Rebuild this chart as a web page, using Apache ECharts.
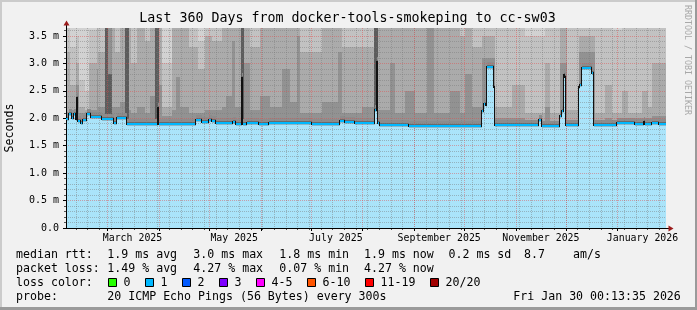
<!DOCTYPE html>
<html><head><meta charset="utf-8">
<script src="https://cdn.jsdelivr.net/npm/echarts@6/dist/echarts.min.js"></script>
<style>html,body{margin:0;padding:0;background:#f1f1f1;}#c{width:697px;height:310px;}</style>
</head><body><div id="c"></div>
<script>
// ---------- data ----------
// time window: 360 days ending Fri Jan 30 00:13:35 2026 (day offsets measured from window start)
const windowEnd = '2026-01-30T00:13:35Z';
const windowDays = 360;

// median RTT (ms), step series: value holds from medDay[i] until medDay[i+1]
const medDay = [0, 1.86, 3.42, 4.86, 5.82, 6.83, 7.43, 8.81, 10.25, 12.83, 14.81, 21.82, 28.84, 30.82, 36.81,
  55.40, 56.0, 63.79, 65.77, 73.80, 77.76, 81.77, 85.79, 87.77, 89.75, 100.36, 102.16, 105.76, 106.35, 108.75,
  115.77, 121.76, 127.76, 147.72, 164.69, 167.69, 173.68, 185.31, 186.51, 187.11, 188.67, 205.70, 249.64, 250.66,
  252.04, 252.64, 255.64, 256.65, 257.25, 283.63, 285.61, 296.58, 297.60, 298.62, 299.22, 300.18, 307.61, 308.57,
  309.59, 315.59, 316.79, 330.58, 341.55, 346.58, 347.54, 351.56, 355.58];
const medVal = [1.99, 2.07, 2.0, 2.07, 1.99, 2.37, 1.95, 1.92, 1.97, 2.07, 2.02, 1.98, 1.92, 2.0, 1.89,
  2.19, 1.89, 1.9, 1.89, 1.9, 1.96, 1.94, 1.96, 1.95, 1.91, 1.93, 1.9, 2.73, 1.9, 1.92,
  1.9, 1.92, 1.91, 1.89, 1.95, 1.93, 1.91, 2.15, 3.03, 1.92, 1.87, 1.86, 2.13, 2.26,
  2.24, 2.93, 2.94, 2.57, 1.87, 1.96, 1.85, 2.05, 2.13, 2.78, 2.76, 1.87, 2.57, 2.6,
  2.91, 2.82, 1.87, 1.92, 1.9, 1.94, 1.89, 1.91, 1.9];

// smoke (ping spread, ms): boundaries of the shade bands above the median, per segment starting at smokeDay[i]
const smokeDay = [0, 2.64, 5.94, 8.03, 11.63, 14.03, 18.53, 19.42, 23.62, 25.42, 27.82, 29.62, 32.61, 35.61, 37.71,
  39.21, 42.81, 47.60, 50.60, 53.60, 56.00, 57.79, 63.79, 66.19, 68.59, 73.98, 79.38, 83.57, 87.77, 93.76,
  96.16, 99.76, 101.56, 105.16, 106.65, 110.55, 116.55, 122.54, 129.74, 134.53, 138.73, 140.53, 153.72, 163.31,
  165.71, 177.70, 184.89, 187.29, 194.48, 197.48, 203.48, 209.47, 216.67, 220.86, 230.46, 236.45, 239.45, 243.65,
  249.64, 257.43, 267.63, 275.42, 287.41, 290.41, 296.40, 300.60, 307.79, 317.39, 323.38, 327.58, 333.57, 337.17,
  345.56, 349.16, 351.56];
const smokeQ0 = [0, 0, 0, 0, 0, 0, 0, 0, 3.7, 2.8, 0, 0, 0, 3.7, 0,
  0, 0, 0, 0, 3.7, 0, 0, 0, 0, 0, 0, 0, 0, 0, 0,
  0, 0, 0, 3.7, 0, 0, 0, 0, 0, 0, 0, 0, 0, 0,
  0, 0, 3.7, 0, 0, 0, 0, 0, 0, 0, 0, 0, 0, 0,
  0, 0, 0, 0, 0, 0, 0, 0, 0, 0, 0, 0, 0, 0,
  0, 0, 0];
const smokeQ1 = [2.12, 2.15, 2.6, 2.1, 2.12, 2.15, 2.9, 2.2, 3.7, 3.7, 2.2, 2.2, 2.3, 3.7, 2.15,
  2.1, 2.2, 2.1, 2.4, 3.7, 2.6, 2.05, 2.15, 2.75, 2.2, 2.1, 2.1, 2.15, 2.15, 2.2,
  2.4, 3.4, 2.2, 3.7, 3.0, 2.15, 2.4, 2.2, 2.9, 2.3, 3.5, 2.1, 2.3, 3.2,
  2.1, 2.2, 3.7, 2.15, 3.0, 2.1, 2.5, 2.1, 3.7, 2.1, 2.5, 2.1, 2.8, 2.2,
  3.1, 2.0, 2.0, 1.95, 2.2, 1.95, 3.0, 1.95, 3.2, 1.95, 2.0, 1.95, 2.0, 2.0,
  2.0, 2.0, 2.05];
const smokeQ2 = [3.2, 2.6, 3.0, 2.2, 2.15, 3.0, 3.7, 3.2, 3.7, 3.7, 3.7, 3.2, 3.7, 3.7, 3.7,
  3.0, 3.7, 3.4, 3.7, 3.7, 3.7, 2.2, 3.7, 3.7, 3.7, 3.3, 2.9, 3.5, 3.4, 3.7,
  3.7, 3.7, 3.7, 3.7, 3.7, 3.3, 3.7, 3.7, 3.7, 3.7, 3.7, 3.2, 3.7, 3.7,
  3.3, 3.3, 3.7, 3.7, 3.7, 3.7, 3.7, 3.7, 3.7, 3.7, 3.7, 3.5, 3.7, 3.3,
  3.5, 2.2, 2.6, 2.1, 3.0, 2.1, 3.7, 2.15, 3.5, 2.1, 2.6, 2.1, 2.5, 2.1,
  2.5, 2.2, 3.0];
const smokeQ3 = [3.7, 3.3, 3.5, 2.7, 2.5, 3.6, 3.7, 3.7, 3.7, 3.7, 3.7, 3.7, 3.7, 3.7, 3.7,
  3.7, 3.7, 3.7, 3.7, 3.7, 3.7, 3.0, 3.7, 3.7, 3.7, 3.7, 3.4, 3.7, 3.7, 3.7,
  3.7, 3.7, 3.7, 3.7, 3.7, 3.7, 3.7, 3.7, 3.7, 3.7, 3.7, 3.7, 3.7, 3.7,
  3.7, 3.7, 3.7, 3.7, 3.7, 3.7, 3.7, 3.7, 3.7, 3.7, 3.7, 3.7, 3.7, 3.7,
  3.7, 3.7, 3.7, 3.5, 3.7, 3.7, 3.7, 3.7, 3.7, 3.7, 3.7, 3.6, 3.7, 3.7,
  3.7, 3.7, 3.7];

const yMax = 3.645;
const yMajorTicks = [0, 0.5, 1.0, 1.5, 2.0, 2.5, 3.0, 3.5];
const yMinorTicks = [0.1,0.2,0.3,0.4,0.6,0.7,0.8,0.9,1.1,1.2,1.3,1.4,1.6,1.7,1.8,1.9,2.1,2.2,2.3,2.4,2.6,2.7,2.8,2.9,3.1,3.2,3.3,3.4,3.6];
const monthStarts = ['2025-03-01','2025-04-01','2025-05-01','2025-06-01','2025-07-01','2025-08-01','2025-09-01',
  '2025-10-01','2025-11-01','2025-12-01','2026-01-01'];
const xLabelText = ['March 2025','May 2025','July 2025','September 2025','November 2025','January 2026'];
const xLabelAt = ['2025-03-15T22:00:00Z','2025-05-15T22:00:00Z','2025-07-15T22:00:00Z','2025-09-15T22:00:00Z',
  '2025-11-15T22:00:00Z','2026-01-15T22:00:00Z'];

const titleText = 'Last 360 Days from docker-tools-smokeping to cc-sw03';
const rttStats = ['1.9 ms avg', '3.0 ms max', '1.8 ms min', '1.9 ms now', '0.2 ms sd', '8.7', 'am/s'];
const lossStats = ['1.49 % avg', '4.27 % max', '0.07 % min', '4.27 % now'];
const lossLabels = ['0', '1', '2', '3', '4-5', '6-10', '11-19', '20/20'];
const lossColors = ['#26ff00', '#00b8ff', '#0059ff', '#7e00ff', '#ff00ff', '#ff5500', '#ff0000', '#a10000'];
const probeText = '20 ICMP Echo Pings (56 Bytes) every 300s';
const stampText = 'Fri Jan 30 00:13:35 2026';

// ---------- build ----------
const DAY = 86400000;
const END = Date.parse(windowEnd);
const START = END - windowDays * DAY;
const toTs = d => START + d * DAY;
const MONO = '"DejaVu Sans Mono", monospace';

function stepAt(days, vals, d) { let k = 0; for (let i = 0; i < days.length; i++) if (days[i] <= d) k = i; return vals[k]; }
const bps = Array.from(new Set([...medDay, ...smokeDay, windowDays])).sort((a, b) => a - b);
const smokeData = [];
for (let i = 0; i < bps.length - 1; i++) {
  const a = bps[i], b = bps[i + 1]; if (b <= a) continue; const m = (a + b) / 2;
  smokeData.push([toTs(a), toTs(b), stepAt(medDay, medVal, m), stepAt(smokeDay, smokeQ0, m),
    stepAt(smokeDay, smokeQ1, m), stepAt(smokeDay, smokeQ2, m), stepAt(smokeDay, smokeQ3, m)]);
}
const medData = medDay.map((d, i) => [toTs(d), toTs(i + 1 < medDay.length ? medDay[i + 1] : windowDays), medVal[i], i > 0 ? medVal[i - 1] : medVal[i]]);

const shades = ['#5c5c5c', '#929292', '#ababab', '#c2c2c2', '#d2d2d2'];
const CYAN_AREA = '#aae4fa';
const MED_COLOR = '#00b8ff';

function renderSmoke(params, api) {
  const t0 = api.value(0), t1 = api.value(1), m = api.value(2);
  const q = [api.value(3), api.value(4), api.value(5), api.value(6), yMax];
  const x0 = Math.round(api.coord([t0, 0])[0]);
  let x1 = Math.round(api.coord([t1, 0])[0]);
  if (x1 <= x0) x1 = x0 + 1;
  const w = x1 - x0;
  const yv = v => api.coord([t0, v])[1];
  const ch = [];
  const y0 = yv(0), ym = Math.round(yv(m));
  ch.push({ type: 'rect', shape: { x: x0, y: ym, width: w, height: y0 - ym }, style: { fill: CYAN_AREA } });
  let prev = m;
  for (let k = 0; k < 5; k++) {
    const top = Math.min(Math.max(q[k], prev), yMax);
    if (top > prev) {
      const yt = Math.round(yv(top)), yb = Math.round(yv(prev));
      ch.push({ type: 'rect', shape: { x: x0, y: yt, width: w, height: yb - yt }, style: { fill: shades[k] } });
      prev = top;
    }
  }
  ch.push({ type: 'rect', shape: { x: x0, y: ym - 5, width: w, height: 3 }, style: { fill: '#8c8c8c' } });
  ch.push({ type: 'rect', shape: { x: x0, y: ym - 2, width: w, height: 2 }, style: { fill: '#6a6a6a' } });
  ch.push({ type: 'rect', shape: { x: x0, y: ym + 1, width: w, height: 1 }, style: { fill: 'rgba(70,70,70,0.28)' } });
  return { type: 'group', children: ch };
}
function renderMedian(params, api) {
  const t0 = api.value(0), t1 = api.value(1), m = api.value(2), p = api.value(3);
  const x0 = Math.round(api.coord([t0, 0])[0]);
  let x1 = Math.round(api.coord([t1, 0])[0]);
  if (x1 <= x0) x1 = x0 + 1;
  const ym = Math.round(api.coord([t0, m])[1]), yp = Math.round(api.coord([t0, p])[1]);
  const ch = [];
  ch.push({ type: 'rect', shape: { x: x0, y: ym - 1, width: x1 - x0, height: 2 }, style: { fill: MED_COLOR } });
  if (ym !== yp) {
    ch.push({ type: 'rect', shape: { x: x0 - 1, y: Math.min(ym, yp) - 1, width: 1, height: Math.abs(ym - yp) + 2 }, style: { fill: '#111111' } });
  }
  return { type: 'group', children: ch };
}

const weekTicks = [];
for (let t = Date.parse('2025-02-10T00:00:00Z'); t < END; t += 7 * DAY) weekTicks.push(t);
const monthTs = monthStarts.map(s => Date.parse(s + 'T00:00:00Z'));
const labelTs = xLabelAt.map(s => Date.parse(s));

const txt = (text, x, y, size, extra) => Object.assign({ type: 'text', x: x, y: y, silent: true,
  style: Object.assign({ text: text, font: size + 'px ' + MONO, fill: '#000', verticalAlign: 'middle' }, extra || {}) });
const graphics = [
  { type: 'rect', shape: { x: 0, y: 0, width: 697, height: 2 }, style: { fill: '#cbcbcb' } },
  { type: 'rect', shape: { x: 0, y: 0, width: 2, height: 310 }, style: { fill: '#cbcbcb' } },
  { type: 'rect', shape: { x: 0, y: 307, width: 697, height: 3 }, style: { fill: '#9a9a9a' } },
  { type: 'rect', shape: { x: 695, y: 0, width: 2, height: 310 }, style: { fill: '#9a9a9a' } },
  txt(titleText, 347.5, 19, 13.3, { align: 'center' }),
  { type: 'text', x: 10, y: 128, rotation: Math.PI / 2, silent: true, style: { text: 'Seconds', font: '11.6px ' + MONO, fill: '#000', align: 'center', verticalAlign: 'middle' } },
  { type: 'text', x: 687, y: 5, rotation: -Math.PI / 2, silent: true, style: { text: 'RRDTOOL / TOBI OETIKER', font: '8.3px ' + MONO, fill: '#a8a8a8', align: 'left', verticalAlign: 'middle' } },
  { type: 'line', shape: { x1: 66.5, y1: 24, x2: 66.5, y2: 28 }, style: { stroke: '#000', lineWidth: 1 }, z: 100 },
  { type: 'polygon', shape: { points: [[63.5, 25.5], [69.5, 25.5], [66.5, 20.5]] }, style: { fill: '#9b1c1c' }, z: 100 },
  { type: 'line', shape: { x1: 666, y1: 228.5, x2: 669, y2: 228.5 }, style: { stroke: '#000', lineWidth: 1 }, z: 100 },
  { type: 'polygon', shape: { points: [[668.5, 225.5], [668.5, 231.5], [673.5, 228.5]] }, style: { fill: '#9b1c1c' }, z: 100 },
];
// legend rows
const colX = [107.3, 193.3, 279.3, 364, 448.5, 524, 573];
graphics.push(txt('median rtt:', 16, 254.5, 11.6));
rttStats.forEach((s, i) => graphics.push(txt(s, colX[i], 254.5, 11.6)));
graphics.push(txt('packet loss:', 16, 268.5, 11.6));
lossStats.forEach((s, i) => graphics.push(txt(s, colX[i], 268.5, 11.6)));
graphics.push(txt('loss color:', 16, 282.5, 11.6));
const boxX = [108.5, 145.5, 182.5, 219.5, 256.5, 307.5, 365.5, 430.5];
lossLabels.forEach((s, i) => {
  graphics.push({ type: 'rect', shape: { x: boxX[i], y: 278.5, width: 8, height: 8 }, style: { fill: lossColors[i], stroke: '#000', lineWidth: 1 } });
  graphics.push(txt(s, boxX[i] + 15, 282.5, 11.6));
});
graphics.push(txt('probe:', 16, 296.5, 11.6));
graphics.push(txt(probeText, 107.3, 296.5, 11.6));
graphics.push(txt(stampText, 513.3, 296.5, 11.6));

const MINOR = 'rgba(120,120,120,0.45)';
const MAJOR = 'rgba(230,70,70,0.45)';
const chart = echarts.init(document.getElementById('c'), null, { renderer: 'canvas' });
chart.setOption({
  animation: false,
  backgroundColor: '#f1f1f1',
  grid: { left: 66, top: 28, width: 600, height: 200, containLabel: false },
  xAxis: [
    { type: 'value', min: START, max: END, z: 10, position: 'bottom',
      axisLine: { show: true, lineStyle: { color: '#000', width: 1 } },
      axisTick: { show: true, customValues: monthTs, length: 3, inside: false, lineStyle: { color: '#000' } },
      splitLine: { show: true, lineStyle: { color: MAJOR, width: 1, type: [1, 1] } },
      axisLabel: { show: true, customValues: labelTs, margin: 5, fontFamily: MONO, fontSize: 9.9, color: '#000',
        formatter: v => { const k = labelTs.indexOf(v); return k >= 0 ? xLabelText[k] : ''; } } },
    { type: 'value', min: START, max: END, z: 9, position: 'bottom',
      axisLine: { show: false },
      axisTick: { show: true, customValues: weekTicks, length: 2, lineStyle: { color: '#555' } },
      splitLine: { show: true, lineStyle: { color: MINOR, width: 1, type: [1, 1] } },
      axisLabel: { show: false } }
  ],
  yAxis: [
    { type: 'value', min: 0, max: yMax, z: 10, position: 'left',
      axisLine: { show: true, lineStyle: { color: '#000', width: 1 } },
      axisTick: { show: true, customValues: yMajorTicks, length: 3, lineStyle: { color: '#000' } },
      splitLine: { show: true, lineStyle: { color: MAJOR, width: 1, type: [1, 1] } },
      axisLabel: { show: true, customValues: yMajorTicks, margin: 7, fontFamily: MONO, fontSize: 10, color: '#000',
        formatter: v => v === 0 ? '0.0' : v.toFixed(1) + ' m' } },
    { type: 'value', min: 0, max: yMax, z: 9, position: 'left',
      axisLine: { show: false },
      axisTick: { show: true, customValues: yMinorTicks, length: 2, lineStyle: { color: '#555' } },
      splitLine: { show: true, lineStyle: { color: MINOR, width: 1, type: [1, 1] } },
      axisLabel: { show: false } }
  ],
  series: [
    { type: 'custom', xAxisIndex: 0, yAxisIndex: 0, renderItem: renderSmoke, data: smokeData, encode: { x: [0, 1], y: [2] }, clip: true, silent: true, z: 2 },
    { type: 'custom', xAxisIndex: 0, yAxisIndex: 0, renderItem: renderMedian, data: medData, encode: { x: [0, 1], y: [2] }, clip: true, silent: true, z: 12 }
  ],
  graphic: graphics
});
</script></body></html>
